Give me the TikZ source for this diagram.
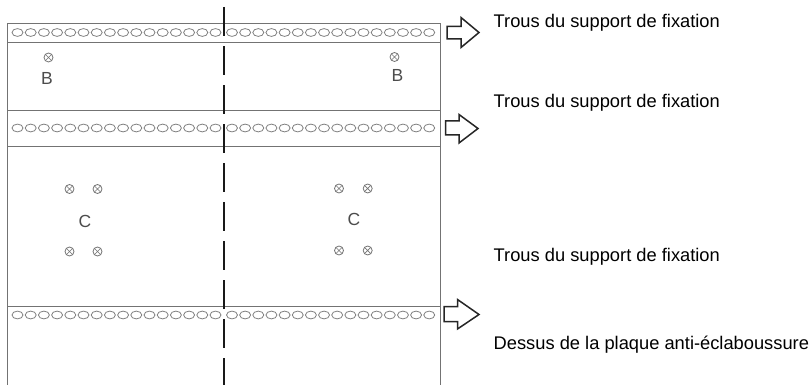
\documentclass[tikz,border=0pt]{standalone}
\usepackage{fontspec}
\setmainfont{Liberation Sans}
\usetikzlibrary{shapes.geometric}
\tikzset{
  panel/.style={draw=black!55,line width=1.2pt},
  hole/.style={draw=black!50,line width=0.8pt,ellipse,minimum width=11pt,minimum height=7.8pt,inner sep=0pt,fill=white},
  screw/.style={circle,draw=black!55,line width=0.8pt,minimum size=9pt,inner sep=0pt,
    path picture={\draw[black!55,line width=0.7pt] ([shift={(1.3pt,-1.3pt)}]path picture bounding box.north west)--([shift={(-1.3pt,1.3pt)}]path picture bounding box.south east)
      ([shift={(-1.3pt,-1.3pt)}]path picture bounding box.north east)--([shift={(1.3pt,1.3pt)}]path picture bounding box.south west);}},
  letter/.style={text=black!70,font=\fontsize{17.5pt}{20pt}\selectfont,inner sep=0pt},
  caption/.style={anchor=base west,inner sep=0pt,text=black,font=\fontsize{18.3pt}{20pt}\selectfont},
  callout/.style={draw=black!85,line width=1.5pt,line join=miter,fill=white},
  axis/.style={draw=black!90,line width=2pt}
}
\begin{document}
\begin{tikzpicture}[x=1pt,y=-1pt]
\useasboundingbox (0,0) rectangle (812,385);
% panel
\draw[panel] (7.5,385) -- (7.5,23.5) -- (440.5,23.5) -- (440.5,385);
\foreach \y in {42.5,110.5,146.5,306.5}
  \draw[panel] (7.5,\y) -- (440.5,\y);
% holes
\foreach \row/\y in {a/32.5,b/128,c/315}{
  \foreach \i in {0,...,15}{
    \node[hole] (h\row l\i) at ({17.5+13.2*\i},\y) {};
    \node[hole] (h\row r\i) at ({232+13.15*\i},\y) {};
  }
}
% axis
\foreach \i in {0,...,9}
  \draw[axis] (224,{7+39.05*\i}) -- (224,{min(385,36+39.05*\i)});
% screws
\node[screw] (b1) at (48.5,57.5) {};
\node[screw] (b2) at (394.5,57) {};
\foreach \n/\x/\y in {c1/69.5/189,c2/97.5/189,c3/69.5/251.5,c4/97.5/251.5,d1/339/188.5,d2/367.7/188.5,d3/339/250.5,d4/367.7/250.5}
  \node[screw] (\n) at (\x,\y) {};
\node[letter] (lb1) at (47,78) {B};
\node[letter] (lb2) at (397.5,75.5) {B};
\node[letter] (lc1) at (85,221) {C};
\node[letter] (lc2) at (354,219.5) {C};
% callout arrows
\draw[callout] (447,26.5) -- (461,26.5) -- (461,17.5) -- (479,32.5) -- (461,47.5) -- (461,39) -- (447,39) -- cycle;
\draw[callout] (445.5,121) -- (459,121) -- (459,114.5) -- (478,128.5) -- (459,143) -- (459,135) -- (445.5,135) -- cycle;
\draw[callout] (444,306.5) -- (457.5,306.5) -- (457.5,299.5) -- (479,314.5) -- (457.5,329) -- (457.5,321.5) -- (444,321.5) -- cycle;
% captions
\node[caption] (t1) at (493.5,27.5) {Trous du support de fixation};
\node[caption] (t2) at (493.5,107.5) {Trous du support de fixation};
\node[caption] (t3) at (493.5,261.5) {Trous du support de fixation};
\node[caption] (t4) at (493.5,349.5) {Dessus de la plaque anti-éclaboussure};
\end{tikzpicture}
\end{document}
